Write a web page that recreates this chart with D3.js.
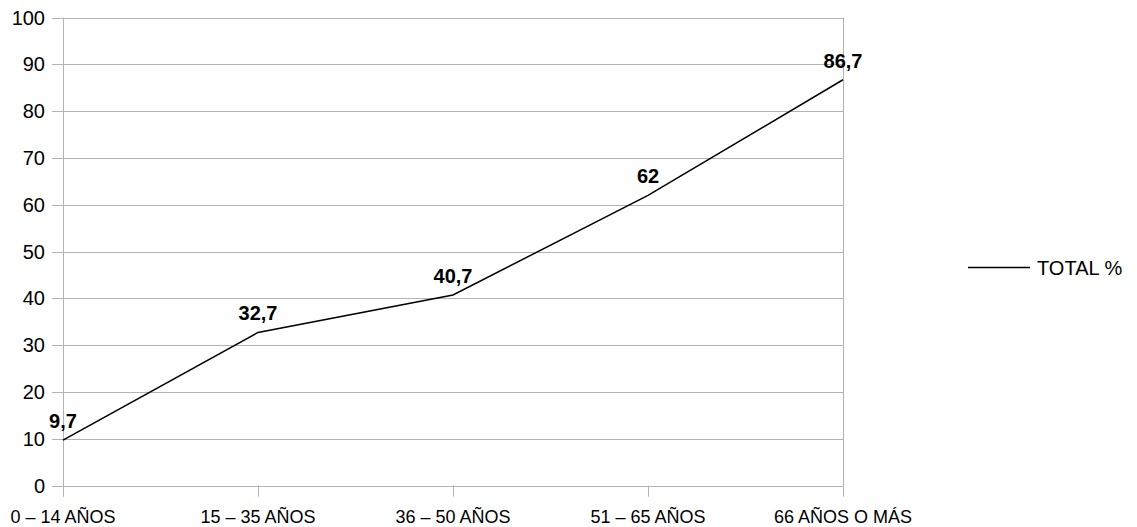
<!DOCTYPE html>
<html>
<head>
<meta charset="utf-8">
<script src="https://cdn.jsdelivr.net/npm/d3@7"></script>
<style>
  html, body { margin: 0; padding: 0; background: #fff; }
  text { font-family: "Liberation Sans", Arial, sans-serif; fill: #000; }
</style>
</head>
<body>
<svg id="chart" width="1137" height="527"></svg>
<script>
const categories = ["0 – 14 AÑOS", "15 – 35 AÑOS", "36 – 50 AÑOS", "51 – 65 AÑOS", "66 AÑOS O MÁS"];
const values = [9.7, 32.7, 40.7, 62, 86.7];
const valueLabels = ["9,7", "32,7", "40,7", "62", "86,7"];
const yTicks = [0, 10, 20, 30, 40, 50, 60, 70, 80, 90, 100];
const seriesName = "TOTAL %";

(function () {
const svg = d3.select("#chart");
const pLeft = 63, pRight = 843, pTop = 17.5, pBottom = 485.5;
const grid = "#b3b3b3";

const x = d3.scalePoint().domain(categories).range([pLeft, pRight]);
const y = d3.scaleLinear().domain([0, 100]).range([pBottom, pTop]);

// horizontal gridlines
svg.append("g").selectAll("line").data(yTicks).join("line")
  .attr("x1", pLeft - 11).attr("x2", pRight)
  .attr("y1", d => Math.round(y(d)) + 0.5).attr("y2", d => Math.round(y(d)) + 0.5)
  .attr("stroke", grid).attr("stroke-width", 1);

// y labels
svg.append("g").selectAll("text").data(yTicks).join("text")
  .attr("x", 45).attr("y", d => y(d) + 7)
  .attr("text-anchor", "end").attr("font-size", 20)
  .text(d => d);

// vertical borders
[pLeft, pRight].forEach(px => {
  svg.append("line").attr("x1", px + 0.5).attr("x2", px + 0.5)
    .attr("y1", pTop).attr("y2", pBottom + 11)
    .attr("stroke", grid).attr("stroke-width", 1);
});

// x ticks
svg.append("g").selectAll("line").data(categories).join("line")
  .attr("x1", d => Math.round(x(d)) + 0.5).attr("x2", d => Math.round(x(d)) + 0.5)
  .attr("y1", pBottom).attr("y2", pBottom + 11)
  .attr("stroke", grid).attr("stroke-width", 1);

// x labels
svg.append("g").selectAll("text").data(categories).join("text")
  .attr("x", d => x(d)).attr("y", 523)
  .attr("text-anchor", "middle").attr("font-size", 18)
  .text(d => d);

// line
const line = d3.line().x((d, i) => x(categories[i])).y(d => y(d));
svg.append("path").datum(values)
  .attr("d", line).attr("fill", "none")
  .attr("stroke", "#000").attr("stroke-width", 1.5);

// value labels
svg.append("g").selectAll("text").data(values).join("text")
  .attr("x", (d, i) => x(categories[i])).attr("y", d => y(d) - 12)
  .attr("text-anchor", "middle").attr("font-size", 20).attr("font-weight", "bold")
  .text((d, i) => valueLabels[i]);

// legend
svg.append("line").attr("x1", 968).attr("x2", 1030).attr("y1", 267.5).attr("y2", 267.5)
  .attr("stroke", "#000").attr("stroke-width", 1.5);
svg.append("text").attr("x", 1037).attr("y", 275).attr("font-size", 20).text(seriesName);
})();
</script>
</body>
</html>
